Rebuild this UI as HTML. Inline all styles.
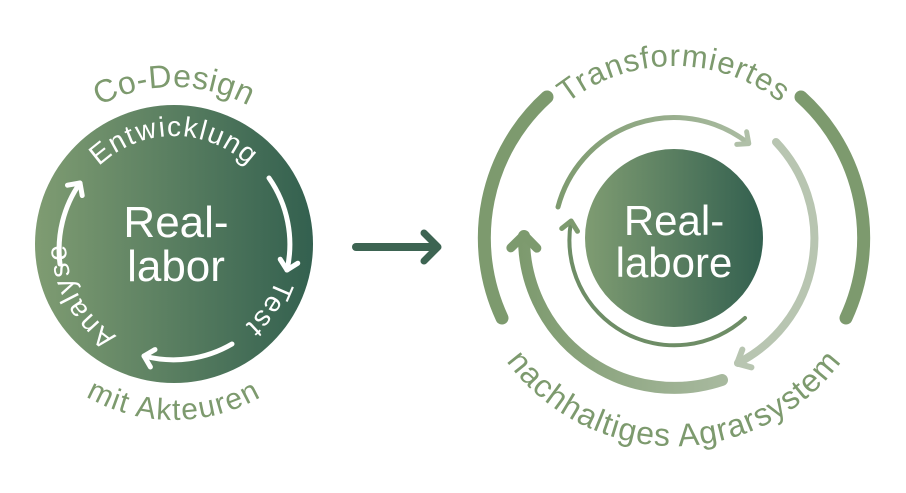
<!DOCTYPE html>
<html><head><meta charset="utf-8"><style>
html,body{margin:0;padding:0;background:#fff;}
svg{display:block;font-family:"Liberation Sans",sans-serif;}
</style></head><body>
<svg width="906" height="493" viewBox="0 0 906 493" xmlns="http://www.w3.org/2000/svg">
<defs>
<linearGradient id="gL" gradientUnits="userSpaceOnUse" x1="35" y1="0" x2="313" y2="0">
<stop offset="0" stop-color="#7f9c72"/><stop offset="1" stop-color="#33604f"/></linearGradient>
<linearGradient id="gR" gradientUnits="userSpaceOnUse" x1="585" y1="0" x2="763" y2="0">
<stop offset="0" stop-color="#7f9c72"/><stop offset="1" stop-color="#33604f"/></linearGradient>
<linearGradient id="gBig" gradientUnits="userSpaceOnUse" x1="520" y1="0" x2="730" y2="0">
<stop offset="0" stop-color="#7d9a6e"/><stop offset="1" stop-color="#a9baa0"/></linearGradient>
<linearGradient id="gTop" gradientUnits="userSpaceOnUse" x1="555" y1="0" x2="765" y2="0">
<stop offset="0" stop-color="#7d9a6e"/><stop offset="1" stop-color="#afbfa7"/></linearGradient>
<marker id="mw" markerUnits="userSpaceOnUse" markerWidth="30" markerHeight="30" refX="15" refY="15" orient="auto">
<path d="M6 6 L15 15 L6 24" fill="none" stroke="#fff" stroke-width="5" stroke-linecap="round" stroke-linejoin="round"/></marker>
<marker id="mBig" markerUnits="userSpaceOnUse" markerWidth="40" markerHeight="40" refX="20" refY="20" orient="auto">
<path d="M8 7 L21 20 L8 33" fill="none" stroke="#7d9a6e" stroke-width="9" stroke-linecap="round" stroke-linejoin="round"/></marker>
<marker id="mLight" markerUnits="userSpaceOnUse" markerWidth="36" markerHeight="36" refX="18" refY="18" orient="auto">
<path d="M8 8 L19 18 L8 28" fill="none" stroke="#b8c5b1" stroke-width="6" stroke-linecap="round" stroke-linejoin="round"/></marker>
<marker id="mTop" markerUnits="userSpaceOnUse" markerWidth="30" markerHeight="30" refX="15" refY="15" orient="auto">
<path d="M7 7 L16 15 L7 23" fill="none" stroke="#b0c0a8" stroke-width="5" stroke-linecap="round" stroke-linejoin="round"/></marker>
<marker id="mIn" markerUnits="userSpaceOnUse" markerWidth="30" markerHeight="30" refX="15" refY="15" orient="auto">
<path d="M7 7 L16 15 L7 23" fill="none" stroke="#7d9a6e" stroke-width="5" stroke-linecap="round" stroke-linejoin="round"/></marker>
<marker id="mMid" markerUnits="userSpaceOnUse" markerWidth="40" markerHeight="40" refX="20" refY="20" orient="auto">
<path d="M8 6 L22 20 L8 34" fill="none" stroke="#3d6452" stroke-width="7" stroke-linecap="round" stroke-linejoin="round"/></marker>

<path id="lCo" d="M174 401 A157 157 0 1 1 174 87 A157 157 0 1 1 174 401"/>
<path id="lIn" d="M174 352 A108 108 0 1 1 174 136 A108 108 0 1 1 174 352"/>
<path id="lMit" d="M-2 244 A176 176 0 1 0 350 244 A176 176 0 1 0 -2 244"/>
<path id="rT" d="M674 410 A172 172 0 1 1 674 66 A172 172 0 1 1 674 410"/>
<path id="rN" d="M466 238 A208 208 0 1 0 882 238 A208 208 0 1 0 466 238"/>
</defs>

<!-- LEFT -->
<circle cx="174" cy="244" r="139" fill="url(#gL)"/>
<text font-size="32" fill="#7d9a6e" letter-spacing="0.5"><textPath href="#lCo" startOffset="50%" text-anchor="middle">Co-Design</textPath></text>
<text font-size="30" fill="#7d9a6e" letter-spacing="1.5"><textPath href="#lMit" startOffset="25%" text-anchor="middle">mit Akteuren</textPath></text>
<g font-size="28" fill="#fff" letter-spacing="1.5">
<text><textPath href="#lIn" startOffset="50%" text-anchor="middle">Entwicklung</textPath></text>
<text><textPath href="#lIn" startOffset="84.5%" text-anchor="middle">Test</textPath></text>
<text><textPath href="#lIn" startOffset="17%" text-anchor="middle">Analyse</textPath></text>
</g>
<g fill="none" stroke="#fff" stroke-width="5" stroke-linecap="round">
<path d="M269 178 A116 116 0 0 1 287 270" marker-end="url(#mw)"/>
<path d="M232 344 A116 116 0 0 1 144 356" marker-end="url(#mw)"/>
<path d="M60 264 A116 116 0 0 1 80 183" marker-end="url(#mw)"/>
</g>
<g fill="#fff" font-size="44" text-anchor="middle">
<text x="176" y="237">Real-</text>
<text x="176" y="281">labor</text>
</g>

<path d="M356 247 L436 247" stroke="#3d6452" stroke-width="8" stroke-linecap="round" marker-end="url(#mMid)"/>

<!-- RIGHT -->
<g fill="none" stroke-linecap="round">
<path d="M502 318 A190 190 0 0 1 547 97" stroke="#7d9a6e" stroke-width="13"/>
<path d="M801 97 A190 190 0 0 1 846 318" stroke="#7d9a6e" stroke-width="13"/>
<path d="M722 380 A150 150 0 0 1 524 236" stroke="url(#gBig)" stroke-width="12" marker-end="url(#mBig)"/>
<path d="M776 142 A140 140 0 0 1 738 363" stroke="#b8c5b1" stroke-width="8" marker-end="url(#mLight)"/>
<path d="M558 207 A120 120 0 0 1 748 143" stroke="url(#gTop)" stroke-width="5" marker-end="url(#mTop)"/>
<path d="M745 318 A105 105 0 0 1 571 222" stroke="#6e8d66" stroke-width="4" marker-end="url(#mIn)"/>
</g>
<circle cx="674" cy="238" r="89" fill="url(#gR)"/>
<text font-size="31" fill="#7d9a6e" letter-spacing="1"><textPath href="#rT" startOffset="50%" text-anchor="middle">Transformiertes</textPath></text>
<text font-size="32" fill="#7d9a6e" letter-spacing="1"><textPath href="#rN" startOffset="25%" text-anchor="middle">nachhaltiges Agrarsystem</textPath></text>
<g fill="#fff" font-size="42" text-anchor="middle">
<text x="674" y="235">Real-</text>
<text x="674" y="277">labore</text>
</g>
</svg>
</body></html>
